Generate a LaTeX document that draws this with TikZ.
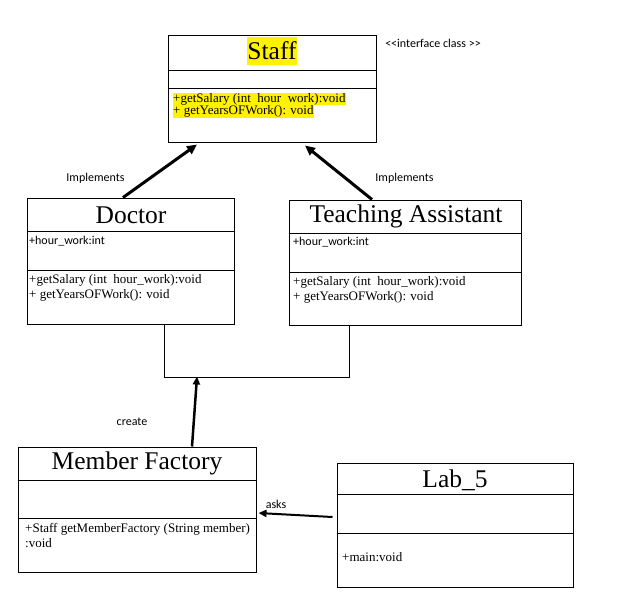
\documentclass[tikz,border=0pt]{standalone}
\usepackage{fontspec}
\setmainfont{Liberation Serif}
\newfontfamily\calibri{Carlito}
\usetikzlibrary{arrows.meta}

\begin{document}
\begin{tikzpicture}[x=1pt,y=-1pt,
  classbox/.style={draw,line width=1pt,inner sep=0pt},
  part/.style={line width=1pt},
  classname/.style={font=\fontsize{25.5}{28}\selectfont},
  members/.style={font=\fontsize{13}{15}\selectfont,align=left,anchor=north west,inner sep=0pt},
  marked/.style={font=\fontsize{13}{15}\selectfont,fill=yellow,text height=9.5pt,text depth=3pt,inner sep=0pt,anchor=west},
  fields/.style={font=\calibri\fontsize{12}{14}\selectfont,anchor=west,inner sep=0pt},
  note/.style={font=\calibri\fontsize{12}{14}\selectfont},
  implements/.style={-{Triangle[length=10pt,width=9pt]},line width=3pt},
  uses/.style={-{Triangle[length=8pt,width=7pt]},line width=2.5pt}]
  \useasboundingbox (0,0) rectangle (617,602);

  \node[classbox,minimum width=208pt,minimum height=106pt] (staff) at (272,89) {};
  \node[classbox,minimum width=207pt,minimum height=126pt] (doctor) at (130.5,261) {};
  \node[classbox,minimum width=232pt,minimum height=125pt] (ta) at (405,262.5) {};
  \node[classbox,minimum width=238pt,minimum height=125pt] (mf) at (137,509.5) {};
  \node[classbox,minimum width=236pt,minimum height=124pt] (lab) at (455,525) {};
  \foreach \cls/\da/\db in {staff/35/53,doctor/34/73,ta/34/73,mf/34/72,lab/32/71}
    \draw[part] ([yshift=-\da pt]\cls.north west) -- ([yshift=-\da pt]\cls.north east)
                ([yshift=-\db pt]\cls.north west) -- ([yshift=-\db pt]\cls.north east);

  \node[classname,fill=yellow,text height=22.7pt,text depth=5.5pt,inner sep=0pt] (staffname) at (272,51) {Staff};
  \node[classname] (doctorname) at (131,215) {Doctor};
  \node[classname] (taname) at (406,216.5) {Teaching Assistant};
  \node[classname] (mfname) at (137,463) {Member Factory};
  \node[classname] (labname) at (455,480) {Lab\_5};

  \node[marked] (staffsalary) at (173,99) {+getSalary (int\ \ hour\ \ work):void};
  \node[marked] (staffyears) at (173,111.5) {+ getYearsOFWork(): void};
  \node[fields] (doctorfield) at (29,241.5) {+hour\_work:int};
  \node[fields] (tafield) at (293,242.5) {+hour\_work:int};
  \node[members] (doctorops) at (29,274.5) {+getSalary (int\ \ hour\_work):void\\+ getYearsOFWork(): void};
  \node[members] (taops) at (293,276.5) {+getSalary (int\ \ hour\_work):void\\+ getYearsOFWork(): void};
  \node[members] (mfops) at (25,523.5) {+Staff getMemberFactory (String member)\\:void};
  \node[members] (labops) at (342,552.5) {+main:void};

  \draw[implements] ([xshift=-7.5pt]doctor.north) -- ([xshift=-75pt,yshift=-2pt]staff.south);
  \draw[implements] ([xshift=-33pt]ta.north) -- ([xshift=33pt,yshift=-3pt]staff.south);
  \draw[part] ([xshift=33.5pt]doctor.south) -- ++(0,53) coordinate (split) -| ([xshift=-56pt]ta.south);
  \draw[uses] ([xshift=55pt]mf.north) -- ([xshift=33pt,yshift=1pt]split);
  \draw[uses,line width=2pt] ([xshift=-4pt,yshift=8pt]lab.west) -- ([xshift=2pt,yshift=-3.5pt]mf.east);

  \node[note] (implleft) at (95.5,178) {Implements};
  \node[note] (implright) at (404.5,178) {Implements};
  \node[note] (stereo) at (433,43) {{<}{<}interface class {>}{>}};
  \node[note] (createlabel) at (132,422) {create};
  \node[note] (askslabel) at (276,504) {asks};
\end{tikzpicture}
\end{document}
